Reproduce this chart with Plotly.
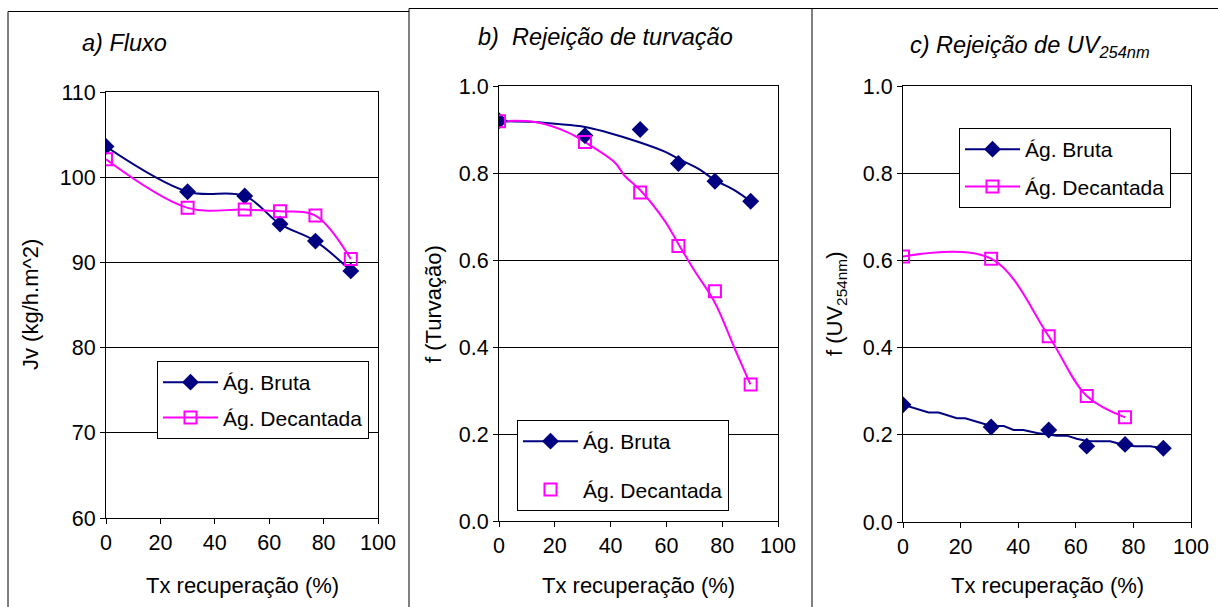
import plotly.graph_objects as go

# ---------------- data ----------------
x_tick_vals = [0, 20, 40, 60, 80, 100]

# a) Fluxo
xa = [0, 30, 51, 64, 77, 90]
a_bruta = [103.6, 98.3, 97.8, 94.5, 92.5, 89.0]
a_dec = [102.1, 96.4, 96.2, 96.0, 95.5, 90.4]

# b) Rejeição de turvação
xb = [0, 30.8, 50.6, 64.3, 77.4, 90.2]
b_bruta = [0.92, 0.886, 0.90, 0.822, 0.781, 0.735]
b_dec = [0.919, 0.871, 0.755, 0.632, 0.528, 0.314]
# trend curves
bt_x_bruta = [0, 12.9, 20, 30.8, 38, 50.6, 59.4, 64.2, 71.4, 77.3, 84.5, 90.1]
bt_bruta = [0.919, 0.917, 0.913, 0.906, 0.895, 0.870, 0.849, 0.833, 0.81, 0.784, 0.76, 0.735]
bt_x_dec = [0, 12.9, 24.8, 30.8, 41.5, 45.1, 50.6, 59.4, 64.2, 70.2, 77.3, 84.5, 90.1]
bt_dec = [0.919, 0.917, 0.893, 0.871, 0.824, 0.793, 0.761, 0.69, 0.638, 0.574, 0.503, 0.396, 0.314]

# c) Rejeição de UV254nm
xc = [0, 30.6, 50.6, 63.8, 77.1, 90.4]
c_bruta = [0.269, 0.218, 0.211, 0.174, 0.178, 0.169]
xc_dec = [0, 30.6, 50.6, 63.8, 77.1]
c_dec = [0.609, 0.604, 0.426, 0.289, 0.240]
ct_x_bruta = [0, 8.9, 12.4, 18.7, 21.6, 30.6, 35, 38.4, 41.8, 46.5, 53.4, 56.9,
              60.3, 63.8, 67.3, 71.9, 77.1, 80.6, 85.8, 90.4]
ct_bruta = [0.269, 0.251, 0.251, 0.238, 0.238, 0.220, 0.220, 0.211, 0.211, 0.204,
            0.198, 0.198, 0.191, 0.186, 0.185, 0.185, 0.176, 0.174, 0.174, 0.169]

name_b = "Ág. Bruta"
name_d = "Ág. Decantada"

NAVY = "#000080"
MAG = "#FF00FF"
FONT = "Liberation Sans, Arial, sans-serif"
W, H = 1218, 607

mk_b = dict(symbol="diamond", size=13, color=NAVY)
mk_d = dict(symbol="square-open", size=12, color=MAG, line=dict(width=2, color=MAG))

fig = go.Figure()

# ---- panel a ----
fig.add_trace(go.Scatter(x=xa, y=a_bruta, mode="lines+markers", name=name_b,
                         line=dict(color=NAVY, width=2, shape="spline"), marker=mk_b,
                         xaxis="x", yaxis="y", legend="legend", legendgroup="a1"))
fig.add_trace(go.Scatter(x=xa, y=a_dec, mode="lines+markers", name=name_d,
                         line=dict(color=MAG, width=2, shape="spline"), marker=mk_d,
                         xaxis="x", yaxis="y", legend="legend", legendgroup="a2"))

# ---- panel b ----
fig.add_trace(go.Scatter(x=bt_x_bruta, y=bt_bruta, mode="lines", showlegend=False,
                         line=dict(color=NAVY, width=2, shape="spline"),
                         xaxis="x2", yaxis="y2", hoverinfo="skip"))
fig.add_trace(go.Scatter(x=bt_x_dec, y=bt_dec, mode="lines", showlegend=False,
                         line=dict(color=MAG, width=2, shape="spline"),
                         xaxis="x2", yaxis="y2", hoverinfo="skip"))
fig.add_trace(go.Scatter(x=xb, y=b_bruta, mode="markers", name=name_b, showlegend=False,
                         marker=mk_b, xaxis="x2", yaxis="y2"))
fig.add_trace(go.Scatter(x=[None], y=[None], mode="lines+markers", name=name_b,
                         line=dict(color=NAVY, width=2), marker=mk_b,
                         xaxis="x2", yaxis="y2", legend="legend2", legendgroup="b1"))
fig.add_trace(go.Scatter(x=xb, y=b_dec, mode="markers", name=name_d, marker=mk_d,
                         xaxis="x2", yaxis="y2", legend="legend2", legendgroup="b2"))

# ---- panel c ----
fig.add_trace(go.Scatter(x=ct_x_bruta, y=ct_bruta, mode="lines", showlegend=False,
                         line=dict(color=NAVY, width=2),
                         xaxis="x3", yaxis="y3", hoverinfo="skip"))
fig.add_trace(go.Scatter(x=xc, y=c_bruta, mode="markers", name=name_b, showlegend=False,
                         marker=mk_b, xaxis="x3", yaxis="y3"))
fig.add_trace(go.Scatter(x=[None], y=[None], mode="lines+markers", name=name_b,
                         line=dict(color=NAVY, width=2), marker=mk_b,
                         xaxis="x3", yaxis="y3", legend="legend3", legendgroup="c1"))
fig.add_trace(go.Scatter(x=xc_dec, y=c_dec, mode="lines+markers", name=name_d,
                         line=dict(color=MAG, width=2, shape="spline"), marker=mk_d,
                         xaxis="x3", yaxis="y3", legend="legend3", legendgroup="c2"))


def px(v):
    return v / W


def py(v):
    return 1 - v / H


tickfont = dict(family=FONT, size=21.5, color="black")


def xax(domain, anchor):
    return dict(domain=domain, anchor=anchor, range=[0, 100], tickvals=x_tick_vals,
                showgrid=False, zeroline=False, showline=True, linecolor="black",
                linewidth=1, mirror=True, ticks="outside", ticklen=5, tickcolor="black",
                tickfont=tickfont, fixedrange=True, automargin=False)


def yax(domain, anchor, rng, dtick, fmt):
    return dict(domain=domain, anchor=anchor, range=rng, dtick=dtick, tickformat=fmt,
                showgrid=True, gridcolor="black", gridwidth=1, zeroline=False,
                showline=True, linecolor="black", linewidth=1, mirror=True,
                ticks="outside", ticklen=5, tickcolor="black", tickfont=tickfont,
                fixedrange=True, automargin=False)


legend_common = dict(font=dict(family=FONT, size=21, color="black"), bgcolor="white",
                     bordercolor="black", borderwidth=1, xanchor="left", yanchor="top",
                     itemwidth=55, traceorder="grouped", itemclick=False, itemdoubleclick=False)

fig.update_layout(
    width=W, height=H, margin=dict(l=0, r=0, t=0, b=0, pad=0, autoexpand=False),
    paper_bgcolor="white", plot_bgcolor="white",
    font=dict(family=FONT, size=21, color="black"),
    xaxis=xax([px(106), px(378)], "y"),
    yaxis=yax([py(518), py(92)], "x", [60, 110], 10, "d"),
    xaxis2=xax([px(499), px(778)], "y2"),
    yaxis2=yax([py(521), py(86)], "x2", [0, 1], 0.2, ".1f"),
    xaxis3=xax([px(903), px(1191)], "y3"),
    yaxis3=yax([py(522), py(86)], "x3", [0, 1], 0.2, ".1f"),
    legend=dict(x=px(157), y=py(361), tracegroupgap=5, **legend_common),
    legend2=dict(x=px(517), y=py(420), tracegroupgap=18, **legend_common),
    legend3=dict(x=px(959), y=py(128), tracegroupgap=7, **legend_common),
)

anns = []
title_font = dict(family=FONT, size=23.5, color="black")
anns.append(dict(text="<i>a) Fluxo</i>", x=px(124), y=py(43), xref="paper", yref="paper",
                 showarrow=False, font=title_font, xanchor="center", yanchor="middle"))
anns.append(dict(text="<i>b)\u00a0 Rejeição de turvação</i>", x=px(605), y=py(37), xref="paper",
                 yref="paper", showarrow=False, font=title_font, xanchor="center", yanchor="middle"))
anns.append(dict(text="<i>c) Rejeição de UV<sub>254nm</sub></i>", x=px(1030), y=py(46), xref="paper",
                 yref="paper", showarrow=False, font=title_font, xanchor="center", yanchor="middle"))

lab_font = dict(family=FONT, size=22, color="black")
for cx in [242, 638, 1047]:
    anns.append(dict(text="Tx recuperação (%)", x=px(cx), y=py(585), xref="paper", yref="paper",
                     showarrow=False, font=lab_font, xanchor="center", yanchor="middle"))
for cx, cy, t in [(30, 305, "Jv (kg/h.m^2)"), (433, 304, "f (Turvação)"),
                  (836, 304, "f (UV<sub>254nm</sub>)")]:
    anns.append(dict(text=t, x=px(cx), y=py(cy), xref="paper", yref="paper", textangle=-90,
                     showarrow=False, font=lab_font, xanchor="center", yanchor="middle"))
fig.update_layout(annotations=anns)

# panel frames
frame = dict(color="black", width=1)
shapes = [
    dict(type="line", xref="paper", yref="paper", x0=px(8), x1=px(409), y0=py(11.5), y1=py(11.5), line=frame),
    dict(type="line", xref="paper", yref="paper", x0=px(8), x1=px(8), y0=py(11.5), y1=0, line=frame),
    dict(type="line", xref="paper", yref="paper", x0=px(409), x1=px(409), y0=py(8.5), y1=0, line=frame),
    dict(type="line", xref="paper", yref="paper", x0=px(409), x1=px(812), y0=py(8.5), y1=py(8.5), line=frame),
    dict(type="line", xref="paper", yref="paper", x0=px(812), x1=px(812), y0=py(8.5), y1=0, line=frame),
    dict(type="line", xref="paper", yref="paper", x0=px(812), x1=1, y0=py(8.5), y1=py(8.5), line=frame),
]
fig.update_layout(shapes=shapes)

fig.write_html(
    "out.html",
    config={"displayModeBar": False},
    post_script="document.body.style.margin='0';document.body.style.overflow='hidden';"
                "document.documentElement.style.overflow='hidden';",
)
